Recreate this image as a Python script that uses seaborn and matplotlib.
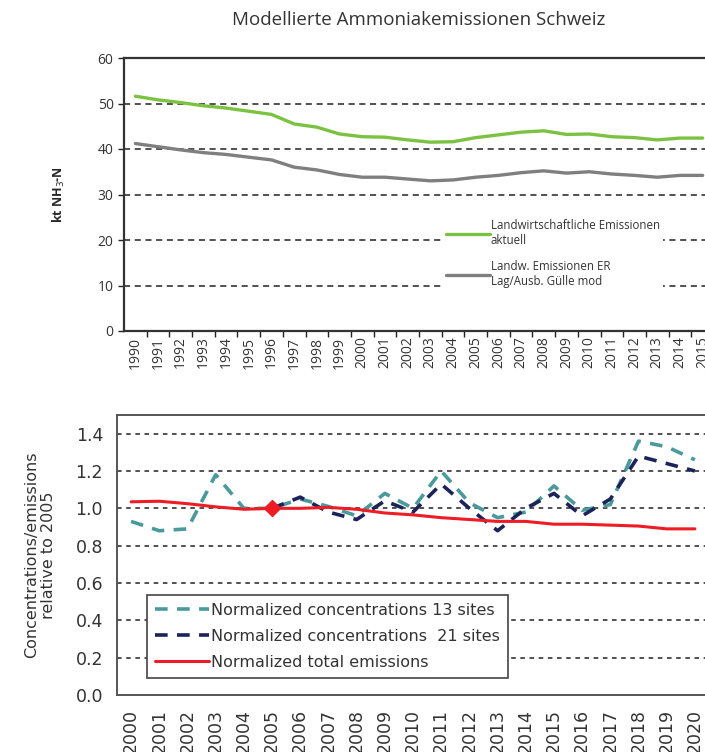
import numpy as np
import pandas as pd
import matplotlib.pyplot as plt
import seaborn as sns
from matplotlib.ticker import FixedLocator

# top panel data (kt NH3-N)
years_top = list(range(1990, 2016))
green_vals = [51.6, 50.8, 50.2, 49.5, 49.0, 48.3, 47.6, 45.5, 44.8, 43.3, 42.7, 42.6, 42.0,
              41.5, 41.6, 42.5, 43.1, 43.7, 44.0, 43.2, 43.3, 42.7, 42.5, 42.0, 42.4, 42.4]
grey_vals = [41.2, 40.5, 39.8, 39.2, 38.8, 38.2, 37.6, 36.0, 35.4, 34.4, 33.8, 33.8, 33.4,
             33.0, 33.2, 33.8, 34.2, 34.8, 35.2, 34.7, 35.0, 34.5, 34.2, 33.8, 34.2, 34.2]
label_green = "Landwirtschaftliche Emissionen\naktuell"
label_grey = "Landw. Emissionen ER\nLag/Ausb. Gülle mod"

# bottom panel data (relative to 2005)
years_bot = list(range(2000, 2021))
conc13 = [0.93, 0.88, 0.89, 1.18, 1.00, 1.00, 1.05, 1.01, 0.96, 1.08, 1.00, 1.20, 1.03,
          0.95, 0.98, 1.12, 0.99, 1.02, 1.36, 1.33, 1.26]
years21 = list(range(2005, 2021))
conc21 = [1.00, 1.06, 0.98, 0.94, 1.04, 0.98, 1.13, 1.00, 0.88, 1.00, 1.08, 0.96, 1.05,
          1.28, 1.24, 1.20]
emis = [1.035, 1.038, 1.025, 1.008, 0.995, 1.00, 1.00, 1.005, 0.995, 0.975, 0.965, 0.95,
        0.94, 0.93, 0.93, 0.915, 0.915, 0.91, 0.905, 0.89, 0.89]

sns.set_style("white")
plt.rcParams['font.family'] = ['DejaVu Sans']
top_font = ['Open Sans', 'DejaVu Sans']

fig = plt.figure(figsize=(7.05, 7.52), dpi=100)

# ---- top panel ----
ax1 = fig.add_axes([124/705, 1-331/752, 590/705, 273/752])
df_top = pd.DataFrame({'year': years_top, 'green': green_vals, 'grey': grey_vals})
sns.lineplot(data=df_top, x='year', y='green', ax=ax1, color='#7cc242', lw=2.4, label=label_green)
sns.lineplot(data=df_top, x='year', y='grey', ax=ax1, color='#7f7f7f', lw=2.4, label=label_grey)
ax1.set_xlim(1989.5, 2015.5)
ax1.set_ylim(0, 60)
ax1.set_yticks(range(0, 61, 10))
for v in range(10, 60, 10):
    ax1.axhline(v, color='#222222', lw=1.1, ls=(0, (4, 3)), zorder=0)
ax1.xaxis.set_major_locator(FixedLocator(years_top))
ax1.set_xticklabels([str(y) for y in years_top], rotation=90, fontsize=10,
                    family=top_font, color='#333333')
ax1.xaxis.set_minor_locator(FixedLocator([y + 0.5 for y in years_top]))
ax1.tick_params(axis='x', which='major', length=0, pad=4)
ax1.tick_params(axis='x', which='minor', length=4, width=1, color='#222222', direction='out', bottom=True)
ax1.tick_params(axis='y', length=4, width=1, color='#222222', direction='out', left=True,
                labelsize=10, labelcolor='#333333')
for lab in ax1.get_yticklabels():
    lab.set_family(top_font)
for s in ['left', 'bottom', 'top']:
    ax1.spines[s].set_color('#333333')
    ax1.spines[s].set_linewidth(1.6)
ax1.spines['right'].set_visible(False)
ax1.set_xlabel('')
ax1.set_ylabel(r'kt NH$_3$-N', fontsize=9, fontweight='bold', family=top_font, labelpad=22)
ax1.set_title('Modellierte Ammoniakemissionen Schweiz', fontsize=13.5, color='#333333',
              family=top_font, pad=24, x=0.5)
leg1 = ax1.legend(loc='upper left', bbox_to_anchor=(0.53, 0.445), frameon=True, facecolor='white',
                  edgecolor='none', fancybox=False, framealpha=1, handlelength=3.8,
                  handletextpad=0.1, labelspacing=1.15, borderpad=0.3,
                  prop={'family': top_font, 'size': 8.3})
for t in leg1.get_texts():
    t.set_color('#333333')

# ---- bottom panel ----
ax2 = fig.add_axes([117/705, 1-695/752, 592/705, 280/752])
df_bot = pd.DataFrame({'year': years_bot, 'c13': conc13, 'emis': emis})
df21 = pd.DataFrame({'year': years21, 'c21': conc21})
for v in np.arange(0.2, 1.41, 0.2):
    ax2.axhline(v, color='#222222', lw=1.1, ls=(0, (3, 3)), zorder=0)
sns.lineplot(data=df_bot, x='year', y='c13', ax=ax2, color='#4a9a9c', lw=2.6,
             label='Normalized concentrations 13 sites', zorder=3)
ax2.lines[-1].set_dashes((3.5, 2.6))
sns.lineplot(data=df21, x='year', y='c21', ax=ax2, color='#1c2358', lw=2.6,
             label='Normalized concentrations  21 sites', zorder=3)
ax2.lines[-1].set_dashes((3.5, 2.6))
sns.lineplot(data=df_bot, x='year', y='emis', ax=ax2, color='#ee1c24', lw=2.2,
             label='Normalized total emissions', zorder=4)
ax2.plot([2005], [1.0], marker='D', color='#ee1c24', ms=8, zorder=5)
ax2.set_xlim(1999.5, 2020.5)
ax2.set_ylim(0, 1.5)
ax2.set_yticks(np.arange(0, 1.41, 0.2))
ax2.set_yticklabels([f'{v:.1f}' for v in np.arange(0, 1.41, 0.2)], fontsize=12.5, color='#333333')
ax2.set_xticks(years_bot)
ax2.set_xticklabels([str(y) for y in years_bot], rotation=90, fontsize=12.5, color='#333333')
ax2.tick_params(length=0, pad=10)
for s in ax2.spines.values():
    s.set_color('#555555')
    s.set_linewidth(1.4)
ax2.set_xlabel('')
ax2.set_ylabel('Concentrations/emissions\nrelative to 2005', fontsize=11.5, color='#333333',
               labelpad=14)
leg2 = ax2.legend(loc='lower left', bbox_to_anchor=(0.051, 0.061), frameon=True, facecolor='white',
                  edgecolor='#444444', fancybox=False, framealpha=1, fontsize=11.5, handlelength=3.4,
                  handletextpad=0.1, labelspacing=0.7, borderpad=0.5, borderaxespad=0)
leg2.get_frame().set_linewidth(1.2)
for t in leg2.get_texts():
    t.set_color('#333333')

fig.savefig('out.png', dpi=100)
